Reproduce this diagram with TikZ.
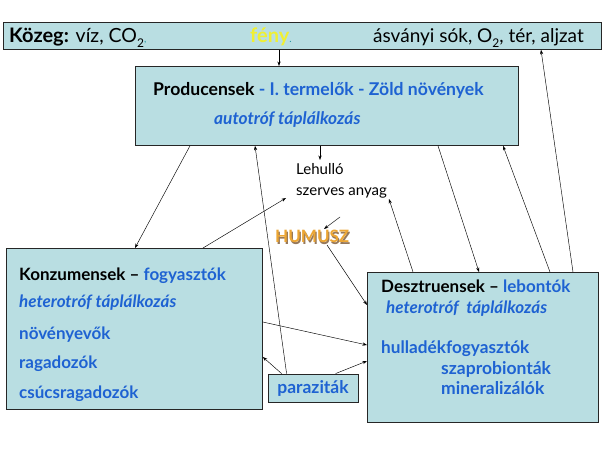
\documentclass[tikz,border=0pt]{standalone}
\usepackage{fontspec}
\setmainfont{Lato}
\usetikzlibrary{arrows.meta}
\definecolor{boxfill}{RGB}{185,222,226}
\definecolor{tblue}{RGB}{30,98,210}
\definecolor{fenyc}{RGB}{240,240,50}
\definecolor{humc}{RGB}{236,166,52}
\definecolor{humsh}{RGB}{150,120,90}
\definecolor{tealc}{RGB}{40,150,160}
\newcommand{\fs}[1]{\fontsize{#1}{#1}\selectfont}
\begin{document}
\begin{tikzpicture}[x=1pt,y=-1pt,
  box/.style={draw=black!85, fill=boxfill, line width=0.8pt, inner sep=0pt, anchor=north west},
  arr/.style={-{Stealth[length=4.5pt,width=3.2pt]}, line width=0.45pt},
  txt/.style={inner sep=0pt, anchor=base west},
]
\path[use as bounding box, fill=white] (0,0) rectangle (605,454);

% boxes
\node[box, minimum width=598pt, minimum height=27pt] (kozeg) at (3,22) {};
\node[box, minimum width=383pt, minimum height=79pt] (prod) at (135,66) {};
\node[box, minimum width=256pt, minimum height=161pt] (konz) at (6,248) {};
\node[box, minimum width=231pt, minimum height=150pt] (desz) at (367,272) {};
\node[box, minimum width=90pt, minimum height=28pt, anchor=center,
      font=\fs{17.5}\bfseries, text=tblue] (paraz) at (313,388) {paraziták};

% Közeg texts
\node[txt] (kozegtxt) at (9,43) {\fs{20}\textbf{Közeg:} \fs{19.5}víz, CO\raisebox{-0.22em}{\fs{12}2}\textcolor{tealc}{\fs{10},}};
\node[txt] (feny) at (250,43) {\fs{20}\textbf{\textcolor{fenyc}{fény}}\textcolor{tealc}{\fs{10}.}};
\node[txt] (asv) at (373,43) {\fs{19}ásványi sók, O\raisebox{-0.22em}{\fs{12}2}, tér, aljzat};

% Producensek texts
\node[txt] (prodt1) at (153,96) {\fs{17.6}\bfseries Producensek \textcolor{tblue}{- I. termelők - Zöld növények}};
\node[txt] (prodt2) at (214,125) {\fs{17.3}\bfseries\itshape\color{tblue}autotróf táplálkozás};

% Konzumensek texts
\node[txt] (konzt1) at (19,281) {\fs{17}\bfseries Konzumensek – \textcolor{tblue}{fogyasztók}};
\node[txt] (konzt2) at (19,308) {\fs{17}\bfseries\itshape\color{tblue}heterotróf táplálkozás};
\node[txt] (konzt3) at (19,339) {\fs{17}\bfseries\color{tblue}növényevők};
\node[txt] (konzt4) at (19,368) {\fs{17}\bfseries\color{tblue}ragadozók};
\node[txt] (konzt5) at (19,398) {\fs{17}\bfseries\color{tblue}csúcsragadozók};

% Desztruensek texts
\node[txt] (deszt1) at (381,293) {\fs{17}\bfseries Desztruensek – \textcolor{tblue}{lebontók}};
\node[txt] (deszt2) at (386,313) {\fs{17}\bfseries\itshape\color{tblue}heterotróf\ \ táplálkozás};
\node[txt] (deszt3) at (381,353) {\fs{17.2}\bfseries\color{tblue}hulladékfogyasztók};
\node[txt] (deszt4) at (441,374) {\fs{17.5}\bfseries\color{tblue}szaprobionták};
\node[txt] (deszt5) at (441,394) {\fs{17.5}\bfseries\color{tblue}mineralizálók};

% free texts
\node[txt] (leh1) at (296,175) {\fs{15}Lehulló};
\node[txt] (szerv) at (296,196) {\fs{15}szerves anyag};
\node[txt, text=humsh] (humshadow) at (276.2,244.2) {\fs{17}\bfseries HUMUSZ};
\node[txt, text=humc] (hum) at (275,243) {\fs{17}\bfseries HUMUSZ};

% connectors
\draw[arr] ([shift={(276,0)}]kozeg.south west) -- ([shift={(144,0)}]prod.north west);
\draw[arr] ([shift={(55,0)}]prod.south west) -- ([shift={(129,0)}]konz.north west);
\draw[arr] ([shift={(19,0)}]paraz.north west) -- ([shift={(120,0)}]prod.south west);
\draw[arr] ([shift={(185,0)}]prod.south west) -- ([shift={(24,-15)}]leh1.base west);
\draw[arr] ([shift={(197,0)}]konz.north west) -- ([shift={(-10,2)}]szerv.base west);
\draw[arr] ([shift={(44,21)}]szerv.base west) -- ([shift={(49,-14)}]hum.base west);
\draw[arr] ([shift={(52,2)}]hum.base west) -- ([shift={(0,33)}]desz.north west);
\draw[arr] ([shift={(46,0)}]desz.north west) -- ([shift={(93,3)}]szerv.base west);
\draw[arr] ([shift={(303,0)}]prod.south west) -- ([shift={(112,0)}]desz.north west);
\draw[arr] ([shift={(183,0)}]desz.north west) -- ([shift={(368,0)}]prod.south west);
\draw[arr] ([shift={(206,0)}]desz.north west) -- ([shift={(538,0)}]kozeg.south west);
\draw[arr] ([shift={(0,74)}]konz.north east) -- ([shift={(0,73)}]desz.north west);
\draw[arr] ([shift={(14,0)}]paraz.north west) -- ([shift={(0,109)}]konz.north east);
\draw[arr] ([shift={(68,0)}]paraz.north west) -- ([shift={(0,89)}]desz.north west);
\end{tikzpicture}
\end{document}
